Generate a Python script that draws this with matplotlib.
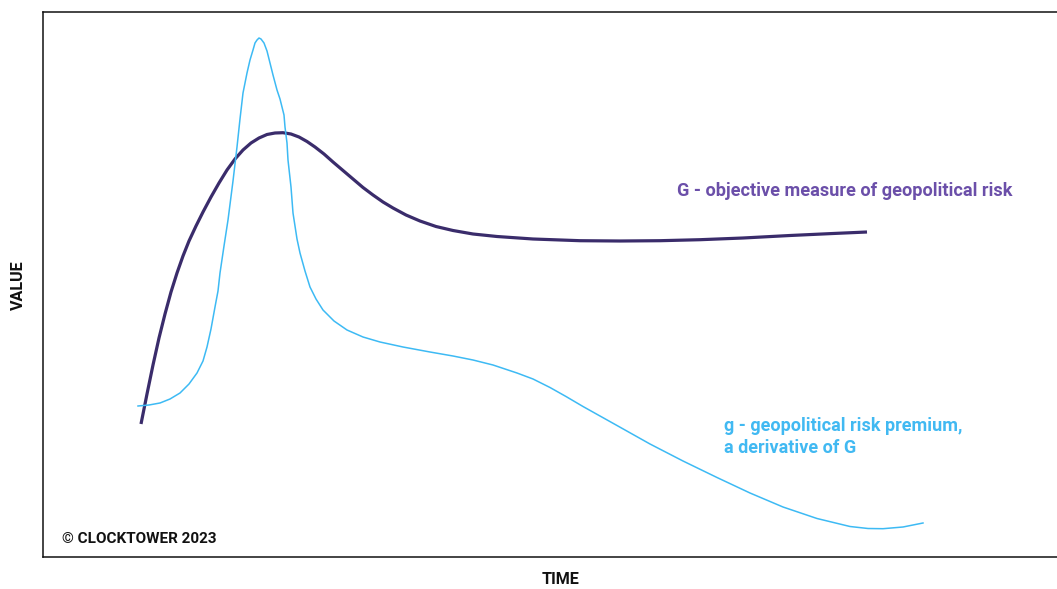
import matplotlib
matplotlib.use("Agg")
import matplotlib.pyplot as plt

# Time / value readings (arbitrary units; time 0..1017, value 0..545)
G_time = [98, 104, 110, 116, 122, 128, 134, 140, 146, 153, 160, 168, 176, 184, 192, 200,
          208, 216, 224, 232, 240, 248, 256, 264, 272, 281, 290, 300, 310, 320, 330, 340,
          350, 363, 377, 393, 410, 430, 454, 490, 537, 577, 617, 657, 700, 747, 790, 824]
G_value = [133, 163, 192, 219, 243, 265, 284, 301, 316, 331, 345, 360, 374, 387, 398, 407,
           414, 419, 422.5, 424, 424.3, 423, 420, 415.5, 410, 403, 395, 386.5, 378, 369.5, 362, 355,
           349, 342, 336, 330.5, 326.5, 323, 320.5, 318, 316.3, 316, 316.3, 317.3, 319, 321.5, 323.5, 325]

g_time = [95, 106, 117, 127, 137, 146, 154, 160, 164, 168, 172, 175, 177, 181, 185, 190,
          194, 197, 200, 204, 207, 210, 212, 214, 216, 218, 221, 224, 227, 230, 234, 237,
          239, 241, 242, 244, 245, 248, 250, 254, 257, 262, 267, 273, 280, 291, 304, 320,
          337, 360, 387, 410, 430, 450, 474, 490, 507, 523, 540, 557, 574, 607, 640, 674,
          707, 740, 774, 807, 825, 840, 860, 880]
g_value = [151, 152, 154, 158, 164, 173, 184, 196, 210, 228, 250, 266, 284, 311, 337, 376,
           410, 438, 464, 484, 497, 507, 514, 517, 519, 518, 514, 506, 494, 482, 467, 458,
           450, 442, 430, 414, 397, 370, 344, 318, 304, 286, 270, 258, 247, 236, 227, 220,
           215, 210, 205, 201, 197, 192, 184, 178, 169.5, 160.5, 150.5, 141, 131.5, 113, 96, 79.5,
           64, 50, 38.5, 30.5, 28.5, 28.3, 30, 34]

G_label = "G - objective measure of geopolitical risk"
g_label = "g - geopolitical risk premium,\na derivative of G"
credit = "\u00a9 CLOCKTOWER 2023"
x_title = "TIME"
y_title = "VALUE"

W, H = 1057, 589
fig = plt.figure(figsize=(W / 100, H / 100), dpi=100)
ax = fig.add_axes([43 / W, 32 / H, 1017 / W, 545 / H])
ax.set_xlim(0, 1017)
ax.set_ylim(0, 545)

ax.plot(G_time, G_value, color="#3a2c6b", lw=2.3, solid_capstyle="butt",
        solid_joinstyle="round")
ax.plot(g_time, g_value, color="#3dbaf4", lw=1.1, solid_joinstyle="round")

font = "Roboto"
ax.text(634, 366, G_label, color="#6b4fa9", fontsize=13.1, fontweight="bold",
        family=font, va="center", ha="left")
ax.text(681, 120, g_label, color="#41b9f2", fontsize=13.0, fontweight="bold",
        family=font, va="center", ha="left", linespacing=1.25)
ax.text(19, 18, credit, color="#111111", fontsize=11.0, fontweight="bold",
        family=font, va="center", ha="left")

for s in ["left", "top", "bottom", "right"]:
    ax.spines[s].set_linewidth(1.1)
    ax.spines[s].set_color("#111111")
ax.set_xticks([])
ax.set_yticks([])

fig.text(561 / W, 1 - 580 / H, x_title, fontsize=11.6, fontweight="bold", family=font,
         ha="center", va="center", color="#111111")
fig.text(18 / W, 1 - 285 / H, y_title, fontsize=11.6, fontweight="bold", family=font,
         ha="center", va="center", rotation=90, color="#111111")

fig.savefig("out.png", dpi=100)
